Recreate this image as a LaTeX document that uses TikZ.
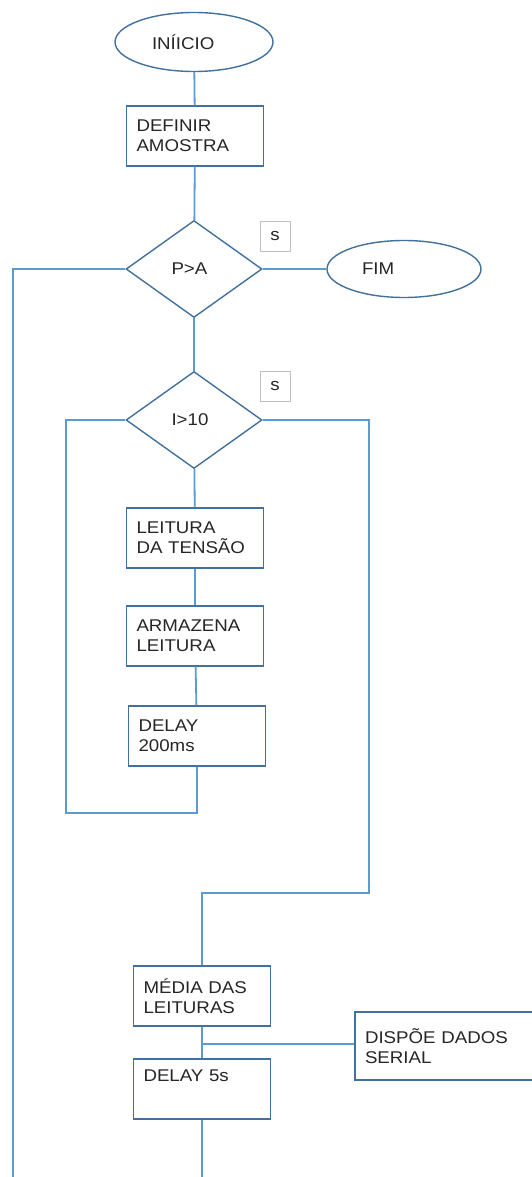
\documentclass[tikz,border=0pt]{standalone}
\usepackage{fontspec}
\setmainfont{Liberation Sans}[FakeStretch=1.1]
\usetikzlibrary{shapes.geometric}

\definecolor{shapeblue}{HTML}{41719C}
\definecolor{lineblue}{HTML}{5B9BD5}
\definecolor{taggray}{HTML}{C0C0C0}

\tikzset{
  txt/.style={font=\fontsize{17}{20}\selectfont, text=black!85},
  term/.style={txt, ellipse, draw=shapeblue, line width=1.4pt, text width=84pt, align=left, inner sep=2pt},
  decision/.style={txt, diamond, draw=shapeblue, line width=1.4pt, minimum width=136pt, minimum height=97pt, text width=45pt, align=left, inner sep=0pt},
  procbox/.style={txt, rectangle, draw=shapeblue, line width=1.4pt, text width=#1, inner xsep=10pt, minimum height=60pt, align=left},
  procbox/.default=117pt,
  yesbox/.style={txt, rectangle, draw=taggray, line width=1pt, minimum width=30pt, minimum height=30pt, inner sep=0pt},
  flow/.style={draw=lineblue, line width=1.8pt}
}

\begin{document}
\begin{tikzpicture}[x=1pt, y=-1pt]

  \clip (0,0) rectangle (532,1177);
  \fill[white] (0,0) rectangle (532,1177);

  % -- Start / End --
  \node[term, minimum width=158pt, minimum height=59pt] (inicio) at (194,42) {INÍICIO};
  \node[term, minimum width=154pt, minimum height=57pt] (fim) at (404,269) {FIM};

  % -- Outer loop --
  \node[procbox] (definir) at (195,136) {DEFINIR\\AMOSTRA};
  \node[decision] (pa) at (194,269) {P>A};
  \node[yesbox] (s1) at (275,236) {s};

  % -- Inner loop --
  \node[decision] (i10) at (194,420) {I>10};
  \node[yesbox] (s2) at (275,386) {s};
  \node[procbox] (leitura) at (195,538) {LEITURA\\DA TENSÃO};
  \node[procbox] (armazena) at (195,636) {ARMAZENA\\LEITURA};
  \node[procbox] (delayms) at (197,736) {DELAY\\200ms};

  % -- After the readings --
  \node[procbox] (media) at (202,996) {MÉDIA DAS\\LEITURAS};
  \node[procbox] (delays) at (202,1089) {DELAY 5s\\\strut};
  \node[procbox=170pt, minimum height=68pt] (serial) at (450,1046) {DISPÕE DADOS\\SERIAL};

  % -- Turn points --
  \coordinate (outdown) at (13,1177);
  \coordinate (loopback) at (66,813);
  \coordinate (exitdown) at (369,893);
  \coordinate (branch) at (202,1044);
  \coordinate (tail) at (202,1177);

  % -- Connectors --
  \draw[flow] (inicio) -- (definir);
  \draw[flow] (definir) -- (pa);
  \draw[flow] (pa.east) -- (fim.west);
  \draw[flow] (pa.west) -| (outdown);
  \draw[flow] (pa) -- (i10);
  \draw[flow] (i10) -- (leitura);
  \draw[flow] (leitura) -- (armazena);
  \draw[flow] (armazena) -- (delayms);
  \draw[flow] (i10.west) -| (loopback) -| (delayms.south);
  \draw[flow] (i10.east) -| (exitdown) -| (media.north);
  \draw[flow] (media) -- (delays);
  \draw[flow] (branch) -- (branch -| serial.west);
  \draw[flow] (delays.south) -- (tail);

\end{tikzpicture}
\end{document}
